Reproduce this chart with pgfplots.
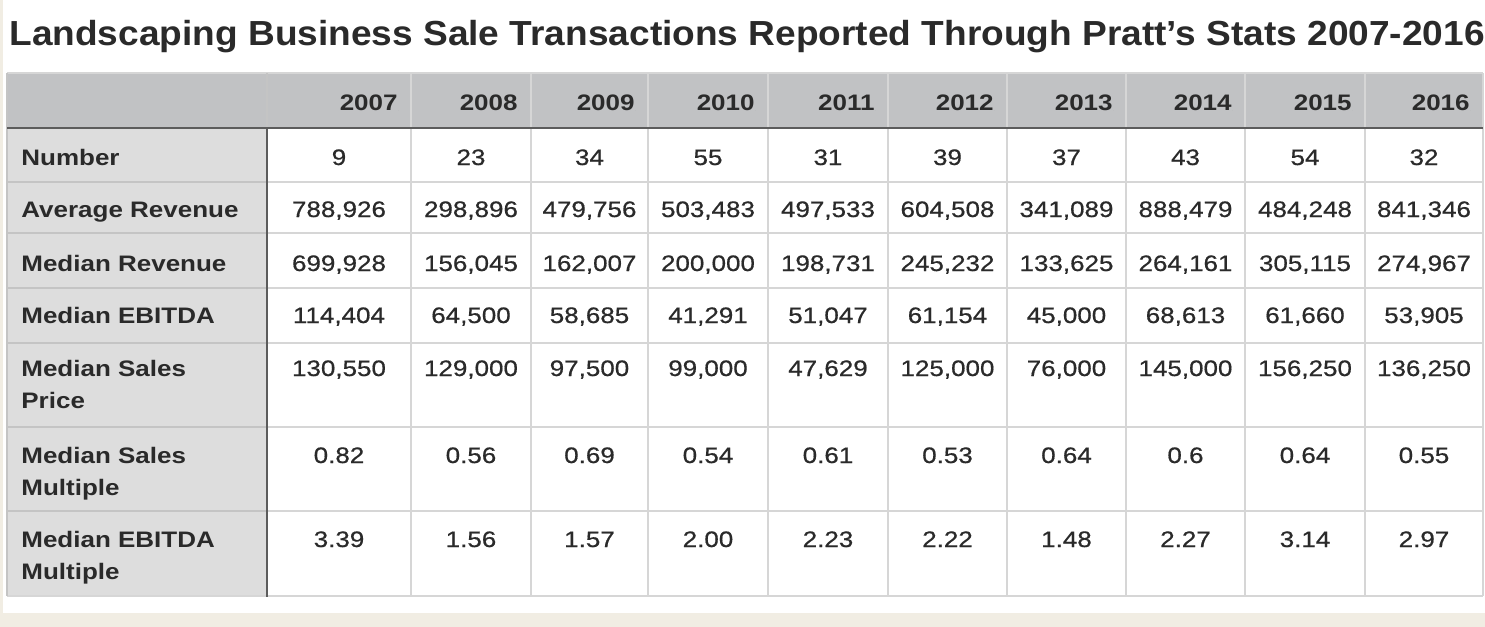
\documentclass[border=0pt]{standalone}
\usepackage{pgfplots}
\pgfplotsset{compat=1.18}
\usepackage{pgfplotstable}
\usepackage{fontspec}
\setmainfont{Liberation Sans}[FakeStretch=1.16]
\newfontfamily\titlefont{Liberation Sans}[FakeStretch=1.065]
\newfontfamily\valfont{Liberation Sans}[FakeStretch=1.16, FakeBold=0.6]
\definecolor{txt}{HTML}{2A2A2A}
\definecolor{hdr}{HTML}{C1C2C4}
\definecolor{lab}{HTML}{DDDDDD}
\definecolor{gridc}{HTML}{D6D6D6}
\definecolor{gridl}{HTML}{C4C4C4}
\definecolor{dark}{HTML}{5C5C5C}
\definecolor{cream}{HTML}{F1EDE3}

% one row per year: column centre (xc), right edge for the header (xr), and the cells
\pgfplotstableread[col sep=semicolon]{
xc;xr;year;num;avg;medrev;ebitda;price;smult;emult
339;398;2007;9;788,926;699,928;114,404;130,550;0.82;3.39
471;518;2008;23;298,896;156,045;64,500;129,000;0.56;1.56
589.5;635;2009;34;479,756;162,007;58,685;97,500;0.69;1.57
708;755;2010;55;503,483;200,000;41,291;99,000;0.54;2.00
828;875;2011;31;497,533;198,731;51,047;47,629;0.61;2.23
947.5;994;2012;39;604,508;245,232;61,154;125,000;0.53;2.22
1066.5;1113;2013;37;341,089;133,625;45,000;76,000;0.64;1.48
1185.5;1232;2014;43;888,479;264,161;68,613;145,000;0.6;2.27
1305;1352;2015;54;484,248;305,115;61,660;156,250;0.64;3.14
1424;1470;2016;32;841,346;274,967;53,905;136,250;0.55;2.97
}\data

\pgfplotstableread[col sep=semicolon]{
y;t
165;Number
217;Average Revenue
271;Median Revenue
323;Median EBITDA
376;Median Sales
408;Price
463;Median Sales
495;Multiple
547;Median EBITDA
579;Multiple
}\rowlabels

\begin{document}
\begin{tikzpicture}
\begin{axis}[
  width=742.5pt, height=313.5pt, scale only axis,
  xmin=0, xmax=1485, ymin=0, ymax=627, y dir=reverse,
  hide axis, clip=false,
  cell/.style={only marks, mark=*, mark size=0pt,
    mark options={draw=none, fill=none},
    nodes near coords, point meta=explicit symbolic},
]
% page and table backgrounds
\fill[cream] (axis cs:0,0) rectangle (axis cs:1485,627);
\fill[white] (axis cs:3,0) rectangle (axis cs:1485,613);
\fill[hdr] (axis cs:7,73) rectangle (axis cs:1483,128);
\fill[lab] (axis cs:7,128) rectangle (axis cs:267,596);
% rules
\draw[gridc, line width=0.6pt] (axis cs:7,73) -- (axis cs:1483,73);
\pgfplotsinvokeforeach{182,233,288,343,427,511}{
  \draw[gridc, line width=0.7pt] (axis cs:267,#1) -- (axis cs:1483,#1);
  \draw[gridl, line width=0.7pt] (axis cs:7,#1) -- (axis cs:267,#1);
}
\draw[gridc, line width=0.7pt] (axis cs:7,596) -- (axis cs:1483,596);
\pgfplotsinvokeforeach{411,531,648,768,888,1007,1126,1245,1365,1483}{
  \draw[gridc, line width=0.6pt] (axis cs:#1,73) -- (axis cs:#1,596);
}
\draw[gridl, line width=0.6pt] (axis cs:267,73) -- (axis cs:267,128);
\draw[gridl, line width=0.6pt] (axis cs:7,73) -- (axis cs:7,596);
\draw[dark, line width=1.1pt] (axis cs:7,128) -- (axis cs:1483,128);
\draw[dark, line width=1pt] (axis cs:267,128) -- (axis cs:267,597);

% title
\node[anchor=base west, inner sep=0pt, text=txt,
  font=\titlefont\bfseries\fontsize{17.4pt}{20pt}\selectfont]
  at (axis cs:9,45) {Landscaping Business Sale Transactions Reported Through Pratt’s Stats 2007-2016};

% header years
\addplot[cell, every node near coord/.append style={anchor=base east, inner sep=0pt,
  text=txt, font=\bfseries\fontsize{11.2pt}{13pt}\selectfont}]
  table[x=xr, y expr=110, meta=year]{\data};

% row labels
\addplot[cell, every node near coord/.append style={anchor=base west, inner sep=0pt,
  text=txt, font=\bfseries\fontsize{11.2pt}{13pt}\selectfont}]
  table[x expr=21, y=y, meta=t]{\rowlabels};

% cells
\pgfplotsset{valstyle/.style={cell, every node near coord/.append style={anchor=base, inner sep=0pt,
  text=txt, font=\valfont\fontsize{11.2pt}{13pt}\selectfont}}}
\addplot[valstyle] table[x=xc, y expr=165, meta=num]{\data};
\addplot[valstyle] table[x=xc, y expr=217, meta=avg]{\data};
\addplot[valstyle] table[x=xc, y expr=271, meta=medrev]{\data};
\addplot[valstyle] table[x=xc, y expr=323, meta=ebitda]{\data};
\addplot[valstyle] table[x=xc, y expr=376, meta=price]{\data};
\addplot[valstyle] table[x=xc, y expr=463, meta=smult]{\data};
\addplot[valstyle] table[x=xc, y expr=547, meta=emult]{\data};
\end{axis}
\end{tikzpicture}
\end{document}
